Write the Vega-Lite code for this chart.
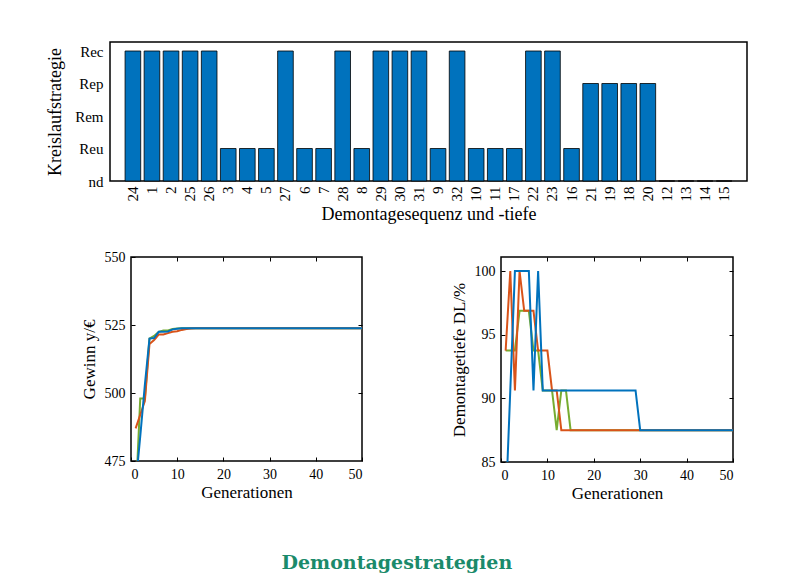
{
  "$schema": "https://vega.github.io/schema/vega-lite/v6.json",
  "background": "white",
  "padding": {"left": 4, "top": 41, "right": 10, "bottom": 5},
  "spacing": 25,
  "title": {"text": "Demontagestrategien", "orient": "bottom", "anchor": "middle", "font": "DejaVu Serif", "fontSize": 19, "fontWeight": "bold", "color": "#1B8A6B", "offset": 52, "dx": 21},
  "config": {
    "font": "Liberation Serif",
    "view": {"stroke": "black", "strokeWidth": 1.5},
    "axis": {"labelFont": "Liberation Serif", "titleFont": "Liberation Serif", "labelColor": "black", "titleColor": "black", "labelFontSize": 14, "titleFontSize": 17, "titleFontWeight": "normal", "domain": false, "grid": false, "tickColor": "black", "tickSize": -4, "tickWidth": 1, "labelPadding": 10}
  },
  "datasets": {
    "strat": [
      {"seq": "24", "level": 4}, {"seq": "1", "level": 4}, {"seq": "2", "level": 4}, {"seq": "25", "level": 4},
      {"seq": "26", "level": 4}, {"seq": "3", "level": 1}, {"seq": "4", "level": 1}, {"seq": "5", "level": 1},
      {"seq": "27", "level": 4}, {"seq": "6", "level": 1}, {"seq": "7", "level": 1}, {"seq": "28", "level": 4},
      {"seq": "8", "level": 1}, {"seq": "29", "level": 4}, {"seq": "30", "level": 4}, {"seq": "31", "level": 4},
      {"seq": "9", "level": 1}, {"seq": "32", "level": 4}, {"seq": "10", "level": 1}, {"seq": "11", "level": 1},
      {"seq": "17", "level": 1}, {"seq": "22", "level": 4}, {"seq": "23", "level": 4}, {"seq": "16", "level": 1},
      {"seq": "21", "level": 3}, {"seq": "19", "level": 3}, {"seq": "18", "level": 3}, {"seq": "20", "level": 3},
      {"seq": "12", "level": 0}, {"seq": "13", "level": 0}, {"seq": "14", "level": 0}, {"seq": "15", "level": 0}
    ],
    "gewinn": [
      {"gen": 1, "r1": 460, "r2": 487, "r3": 466},
      {"gen": 2, "r1": 498, "r2": 492, "r3": 484},
      {"gen": 3, "r1": 498, "r2": 497, "r3": 503},
      {"gen": 4, "r1": 520, "r2": 518, "r3": 520},
      {"gen": 5, "r1": 521, "r2": 519.5, "r3": 520.2},
      {"gen": 6, "r1": 522.5, "r2": 521.5, "r3": 522.5},
      {"gen": 7, "r1": 523, "r2": 521.5, "r3": 522.5},
      {"gen": 8, "r1": 523, "r2": 522, "r3": 522.6},
      {"gen": 9, "r1": 523.5, "r2": 522.5, "r3": 523.4},
      {"gen": 10, "r1": 523.7, "r2": 522.7, "r3": 523.6},
      {"gen": 11, "r1": 523.8, "r2": 523.2, "r3": 523.8},
      {"gen": 12, "r1": 523.8, "r2": 523.5, "r3": 523.8},
      {"gen": 13, "r1": 523.8, "r2": 523.7, "r3": 523.8},
      {"gen": 14, "r1": 523.8, "r2": 523.8, "r3": 523.8},
      {"gen": 15, "r1": 523.8, "r2": 523.8, "r3": 523.8},
      {"gen": 16, "r1": 523.8, "r2": 523.8, "r3": 523.8},
      {"gen": 17, "r1": 523.8, "r2": 523.8, "r3": 523.8},
      {"gen": 18, "r1": 523.8, "r2": 523.8, "r3": 523.8},
      {"gen": 19, "r1": 523.8, "r2": 523.8, "r3": 523.8},
      {"gen": 20, "r1": 523.8, "r2": 523.8, "r3": 523.8},
      {"gen": 21, "r1": 523.8, "r2": 523.8, "r3": 523.8},
      {"gen": 22, "r1": 523.8, "r2": 523.8, "r3": 523.8},
      {"gen": 23, "r1": 523.8, "r2": 523.8, "r3": 523.8},
      {"gen": 24, "r1": 523.8, "r2": 523.8, "r3": 523.8},
      {"gen": 25, "r1": 523.8, "r2": 523.8, "r3": 523.8},
      {"gen": 26, "r1": 523.8, "r2": 523.8, "r3": 523.8},
      {"gen": 27, "r1": 523.8, "r2": 523.8, "r3": 523.8},
      {"gen": 28, "r1": 523.8, "r2": 523.8, "r3": 523.8},
      {"gen": 29, "r1": 523.8, "r2": 523.8, "r3": 523.8},
      {"gen": 30, "r1": 523.8, "r2": 523.8, "r3": 523.8},
      {"gen": 31, "r1": 523.8, "r2": 523.8, "r3": 523.8},
      {"gen": 32, "r1": 523.8, "r2": 523.8, "r3": 523.8},
      {"gen": 33, "r1": 523.8, "r2": 523.8, "r3": 523.8},
      {"gen": 34, "r1": 523.8, "r2": 523.8, "r3": 523.8},
      {"gen": 35, "r1": 523.8, "r2": 523.8, "r3": 523.8},
      {"gen": 36, "r1": 523.8, "r2": 523.8, "r3": 523.8},
      {"gen": 37, "r1": 523.8, "r2": 523.8, "r3": 523.8},
      {"gen": 38, "r1": 523.8, "r2": 523.8, "r3": 523.8},
      {"gen": 39, "r1": 523.8, "r2": 523.8, "r3": 523.8},
      {"gen": 40, "r1": 523.8, "r2": 523.8, "r3": 523.8},
      {"gen": 41, "r1": 523.8, "r2": 523.8, "r3": 523.8},
      {"gen": 42, "r1": 523.8, "r2": 523.8, "r3": 523.8},
      {"gen": 43, "r1": 523.8, "r2": 523.8, "r3": 523.8},
      {"gen": 44, "r1": 523.8, "r2": 523.8, "r3": 523.8},
      {"gen": 45, "r1": 523.8, "r2": 523.8, "r3": 523.8},
      {"gen": 46, "r1": 523.8, "r2": 523.8, "r3": 523.8},
      {"gen": 47, "r1": 523.8, "r2": 523.8, "r3": 523.8},
      {"gen": 48, "r1": 523.8, "r2": 523.8, "r3": 523.8},
      {"gen": 49, "r1": 523.8, "r2": 523.8, "r3": 523.8},
      {"gen": 50, "r1": 523.8, "r2": 523.8, "r3": 523.8}
    ],
    "dl": [
      {"gen": 1, "r1": 93.75, "r2": 93.75, "r3": 81.25},
      {"gen": 2, "r1": 93.75, "r2": 100, "r3": 90.625},
      {"gen": 3, "r1": 93.75, "r2": 90.625, "r3": 100},
      {"gen": 4, "r1": 96.875, "r2": 100, "r3": 100},
      {"gen": 5, "r1": 96.875, "r2": 96.875, "r3": 100},
      {"gen": 6, "r1": 96.875, "r2": 96.875, "r3": 100},
      {"gen": 7, "r1": 93.75, "r2": 96.875, "r3": 90.625},
      {"gen": 8, "r1": 93.75, "r2": 93.75, "r3": 100},
      {"gen": 9, "r1": 90.625, "r2": 93.75, "r3": 90.625},
      {"gen": 10, "r1": 90.625, "r2": 93.75, "r3": 90.625},
      {"gen": 11, "r1": 90.625, "r2": 90.625, "r3": 90.625},
      {"gen": 12, "r1": 87.5, "r2": 90.625, "r3": 90.625},
      {"gen": 13, "r1": 90.625, "r2": 87.5, "r3": 90.625},
      {"gen": 14, "r1": 90.625, "r2": 87.5, "r3": 90.625},
      {"gen": 15, "r1": 87.5, "r2": 87.5, "r3": 90.625},
      {"gen": 16, "r1": 87.5, "r2": 87.5, "r3": 90.625},
      {"gen": 17, "r1": 87.5, "r2": 87.5, "r3": 90.625},
      {"gen": 18, "r1": 87.5, "r2": 87.5, "r3": 90.625},
      {"gen": 19, "r1": 87.5, "r2": 87.5, "r3": 90.625},
      {"gen": 20, "r1": 87.5, "r2": 87.5, "r3": 90.625},
      {"gen": 21, "r1": 87.5, "r2": 87.5, "r3": 90.625},
      {"gen": 22, "r1": 87.5, "r2": 87.5, "r3": 90.625},
      {"gen": 23, "r1": 87.5, "r2": 87.5, "r3": 90.625},
      {"gen": 24, "r1": 87.5, "r2": 87.5, "r3": 90.625},
      {"gen": 25, "r1": 87.5, "r2": 87.5, "r3": 90.625},
      {"gen": 26, "r1": 87.5, "r2": 87.5, "r3": 90.625},
      {"gen": 27, "r1": 87.5, "r2": 87.5, "r3": 90.625},
      {"gen": 28, "r1": 87.5, "r2": 87.5, "r3": 90.625},
      {"gen": 29, "r1": 87.5, "r2": 87.5, "r3": 90.625},
      {"gen": 30, "r1": 87.5, "r2": 87.5, "r3": 87.5},
      {"gen": 31, "r1": 87.5, "r2": 87.5, "r3": 87.5},
      {"gen": 32, "r1": 87.5, "r2": 87.5, "r3": 87.5},
      {"gen": 33, "r1": 87.5, "r2": 87.5, "r3": 87.5},
      {"gen": 34, "r1": 87.5, "r2": 87.5, "r3": 87.5},
      {"gen": 35, "r1": 87.5, "r2": 87.5, "r3": 87.5},
      {"gen": 36, "r1": 87.5, "r2": 87.5, "r3": 87.5},
      {"gen": 37, "r1": 87.5, "r2": 87.5, "r3": 87.5},
      {"gen": 38, "r1": 87.5, "r2": 87.5, "r3": 87.5},
      {"gen": 39, "r1": 87.5, "r2": 87.5, "r3": 87.5},
      {"gen": 40, "r1": 87.5, "r2": 87.5, "r3": 87.5},
      {"gen": 41, "r1": 87.5, "r2": 87.5, "r3": 87.5},
      {"gen": 42, "r1": 87.5, "r2": 87.5, "r3": 87.5},
      {"gen": 43, "r1": 87.5, "r2": 87.5, "r3": 87.5},
      {"gen": 44, "r1": 87.5, "r2": 87.5, "r3": 87.5},
      {"gen": 45, "r1": 87.5, "r2": 87.5, "r3": 87.5},
      {"gen": 46, "r1": 87.5, "r2": 87.5, "r3": 87.5},
      {"gen": 47, "r1": 87.5, "r2": 87.5, "r3": 87.5},
      {"gen": 48, "r1": 87.5, "r2": 87.5, "r3": 87.5},
      {"gen": 49, "r1": 87.5, "r2": 87.5, "r3": 87.5},
      {"gen": 50, "r1": 87.5, "r2": 87.5, "r3": 87.5}
    ]
  },
  "vconcat": [
    {
      "spacing": 20,
      "hconcat": [
        {
          "width": 21,
          "height": 1,
          "view": {"stroke": null},
          "data": {"values": [{"t": ""}]},
          "mark": {"type": "text", "fontSize": 0},
          "encoding": {"text": {"field": "t"}}
        },
        {
          "width": 637,
          "height": 139,
          "data": {"name": "strat"},
          "mark": {"type": "bar", "color": "#0072BD", "stroke": "black", "strokeWidth": 0.8},
          "encoding": {
            "x": {"field": "seq", "type": "ordinal", "sort": null,
                  "scale": {"paddingInner": 0.18, "paddingOuter": 0.79},
                  "axis": {"title": "Demontagesequenz und -tiefe", "titleFontSize": 18, "labelFontSize": 15, "labelAngle": 270, "ticks": false, "labelPadding": 5, "titlePadding": 4}},
            "y": {"field": "level", "type": "quantitative",
                  "scale": {"domain": [0, 4.277], "nice": false},
                  "axis": {"title": "Kreislaufstrategie", "titleFontSize": 18, "labelFontSize": 15, "values": [0, 1, 2, 3, 4], "labelExpr": "['nd','Reu','Rem','Rep','Rec'][datum.value]", "ticks": false, "labelPadding": 7, "titlePadding": 10}}
          }
        }
      ]
    },
    {
      "spacing": 20,
      "hconcat": [
        {
          "width": 55,
          "height": 1,
          "view": {"stroke": null},
          "data": {"values": [{"t": ""}]},
          "mark": {"type": "text", "fontSize": 0},
          "encoding": {"text": {"field": "t"}}
        },
        {
          "spacing": 85,
          "hconcat": [
            {
              "width": 231,
              "height": 204,
              "data": {"name": "gewinn"},
              "transform": [{"fold": ["r1", "r2", "r3"], "as": ["run", "value"]}],
              "layer": [
                {
                  "mark": {"type": "line", "strokeWidth": 2, "clip": true},
                  "encoding": {
                    "x": {"field": "gen", "type": "quantitative", "scale": {"domain": [0, 50], "nice": false},
                          "axis": {"values": [0, 10, 20, 30, 40, 50], "title": "Generationen", "titlePadding": 3}},
                    "y": {"field": "value", "type": "quantitative", "scale": {"domain": [475, 550], "nice": false, "zero": false},
                          "axis": {"values": [475, 500, 525, 550], "title": "Gewinn y/€", "titlePadding": 6}},
                    "color": {"field": "run", "type": "nominal", "scale": {"domain": ["r1", "r2", "r3"], "range": ["#77AC30", "#D95319", "#0072BD"]}, "legend": null}
                  }
                },
                {
                  "mark": {"type": "line", "opacity": 0, "clip": true},
                  "encoding": {
                    "x": {"field": "gen", "type": "quantitative", "axis": {"orient": "top", "values": [10, 20, 30, 40], "labels": false, "title": null}},
                    "y": {"field": "value", "type": "quantitative", "axis": {"orient": "right", "values": [500, 525], "labels": false, "title": null}},
                    "detail": {"field": "run"}
                  }
                }
              ],
              "resolve": {"axis": {"x": "independent", "y": "independent"}}
            },
            {
              "width": 232,
              "height": 205,
              "data": {"name": "dl"},
              "transform": [{"fold": ["r1", "r2", "r3"], "as": ["run", "value"]}],
              "layer": [
                {
                  "mark": {"type": "line", "strokeWidth": 2, "clip": true},
                  "encoding": {
                    "x": {"field": "gen", "type": "quantitative", "scale": {"domain": [0, 50], "nice": false},
                          "axis": {"values": [0, 10, 20, 30, 40, 50], "title": "Generationen", "titlePadding": 3}},
                    "y": {"field": "value", "type": "quantitative", "scale": {"domain": [85, 101.1], "nice": false, "zero": false},
                          "axis": {"values": [85, 90, 95, 100], "title": "Demontagetiefe DL/%", "titlePadding": 6}},
                    "color": {"field": "run", "type": "nominal", "scale": {"domain": ["r1", "r2", "r3"], "range": ["#77AC30", "#D95319", "#0072BD"]}, "legend": null}
                  }
                },
                {
                  "mark": {"type": "line", "opacity": 0, "clip": true},
                  "encoding": {
                    "x": {"field": "gen", "type": "quantitative", "axis": {"orient": "top", "values": [10, 20, 30, 40], "labels": false, "title": null}},
                    "y": {"field": "value", "type": "quantitative", "axis": {"orient": "right", "values": [90, 95, 100], "labels": false, "title": null}},
                    "detail": {"field": "run"}
                  }
                }
              ],
              "resolve": {"axis": {"x": "independent", "y": "independent"}}
            }
          ]
        }
      ]
    }
  ]
}
